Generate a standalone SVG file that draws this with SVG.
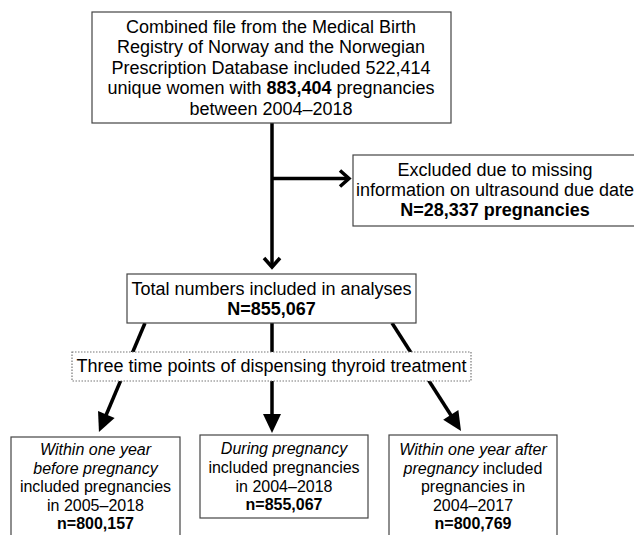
<svg xmlns="http://www.w3.org/2000/svg" width="634" height="535" viewBox="0 0 634 535">
<defs>
<style>
text{font-family:"Liberation Sans",Arial,sans-serif;fill:#000;text-anchor:middle}
.t18{font-size:18px}
.t16{font-size:16px}
.b{font-weight:bold}
.i{font-style:italic}
.box{fill:#fff;stroke:#444;stroke-width:1.2}
.dash{fill:#fff;stroke:#777;stroke-width:1.2;stroke-dasharray:1.5 1.5}
.conn{stroke:#000;stroke-width:3.5;fill:none}
</style>
<marker id="open" markerUnits="userSpaceOnUse" markerWidth="14" markerHeight="22" refX="10" refY="9" orient="auto" overflow="visible">
<path d="M1,1 L10,9 L1,17" fill="none" stroke="#000" stroke-width="3.5"/>
</marker>
<marker id="solid" markerUnits="userSpaceOnUse" markerWidth="20" markerHeight="20" refX="6" refY="9" orient="auto" overflow="visible">
<path d="M0,0 L19,9 L0,18 z" fill="#000"/>
</marker>
</defs>
<g id="connectors">
<line class="conn" x1="272" y1="123" x2="272" y2="267" marker-end="url(#open)"/>
<line class="conn" x1="272" y1="178.5" x2="349" y2="178.5" marker-end="url(#open)"/>
<line class="conn" x1="145" y1="323" x2="104" y2="420" marker-end="url(#solid)"/>
<line class="conn" x1="272" y1="323" x2="272" y2="420" marker-end="url(#solid)"/>
<line class="conn" x1="392" y1="323" x2="454" y2="420" marker-end="url(#solid)"/>
</g>
<g id="source">
<rect class="box" x="92" y="12" width="359" height="111"/>
<text class="t18" x="271" y="32.5">Combined file from the Medical Birth</text>
<text class="t18" x="271" y="53">Registry of Norway and the Norwegian</text>
<text class="t18" x="271" y="73.5">Prescription Database included 522,414</text>
<text class="t18" x="271" y="94">unique women with <tspan class="b">883,404</tspan> pregnancies</text>
<text class="t18" x="271" y="114.5">between 2004–2018</text>
</g>
<g id="excluded">
<rect class="box" x="353" y="155" width="300" height="71"/>
<text class="t18" x="495" y="176">Excluded due to missing</text>
<text class="t18" x="495" y="196">information on ultrasound due date</text>
<text class="t18 b" x="495" y="216">N=28,337 pregnancies</text>
</g>
<g id="total">
<rect class="box" x="127" y="274" width="289" height="49"/>
<text class="t18" x="271.5" y="295">Total numbers included in analyses</text>
<text class="t18 b" x="271.5" y="315">N=855,067</text>
</g>
<g id="timepoints">
<rect class="dash" x="72" y="352" width="399" height="29"/>
<text class="t18" x="271.5" y="372">Three time points of dispensing thyroid treatment</text>
</g>
<g id="before">
<rect class="box" x="11" y="437" width="169" height="110"/>
<text class="t16 i" x="95.5" y="455">Within one year</text>
<text class="t16 i" x="95.5" y="473.5">before pregnancy</text>
<text class="t16" x="95.5" y="492">included pregnancies</text>
<text class="t16" x="95.5" y="510.5">in 2005–2018</text>
<text class="t16 b" x="95.5" y="529">n=800,157</text>
</g>
<g id="during">
<rect class="box" x="200" y="435" width="168" height="83"/>
<text class="t16 i" x="284" y="454">During pregnancy</text>
<text class="t16" x="284" y="473">included pregnancies</text>
<text class="t16" x="284" y="491.5">in 2004–2018</text>
<text class="t16 b" x="284" y="510">n=855,067</text>
</g>
<g id="after">
<rect class="box" x="389" y="435" width="168" height="112"/>
<text class="t16 i" x="473" y="455">Within one year after</text>
<text class="t16" x="473" y="473.5"><tspan class="i">pregnancy</tspan> included</text>
<text class="t16" x="473" y="492">pregnancies in</text>
<text class="t16" x="473" y="510.5">2004–2017</text>
<text class="t16 b" x="473" y="529">n=800,769</text>
</g>
</svg>
